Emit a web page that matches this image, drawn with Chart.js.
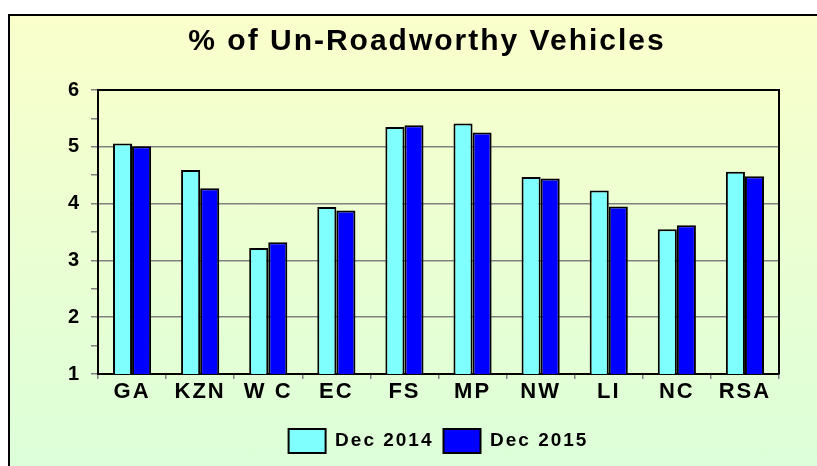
<!DOCTYPE html>
<html>
<head>
<meta charset="utf-8">
<script src="https://cdn.jsdelivr.net/npm/chart.js@4.4.1/dist/chart.umd.min.js"></script>
<style>
  html, body { margin: 0; padding: 0; width: 817px; height: 466px; overflow: hidden; background: #ffffff; }
  #frame { position: absolute; left: 8px; top: 14px; width: 1000px; height: 1000px;
           border: 2px solid #000; box-sizing: border-box;
           background: linear-gradient(to bottom, #FAFFCB 0px, #DCFFD9 452px); }
  #wrap { position: absolute; left: 0; top: 0; width: 817px; height: 466px; }
</style>
</head>
<body>
<div id="frame"></div>
<div id="wrap"><canvas id="c" width="817" height="466"></canvas></div>
<script>
const categories = ['GA', 'KZN', 'W C', 'EC', 'FS', 'MP', 'NW', 'LI', 'NC', 'RSA'];
const seriesNames = ['Dec 2014', 'Dec 2015'];
const dec2014 = [5.06, 4.59, 3.22, 3.94, 5.35, 5.41, 4.47, 4.23, 3.55, 4.56];
const dec2015 = [5.01, 4.27, 3.32, 3.88, 5.38, 5.25, 4.44, 3.95, 3.62, 4.48];
const yMin = 1, yMax = 6, yStep = 0.5;
const titleText = '% of Un-Roadworthy Vehicles';

const FONT = "'Liberation Sans', Arial, sans-serif";
const LS = '2px';

const canvas = document.getElementById('c');
const ctx = canvas.getContext('2d');

const spacing = {
  id: 'spacing',
  beforeUpdate(chart) { chart.ctx.letterSpacing = LS; },
  beforeLayout(chart) { chart.ctx.letterSpacing = LS; },
  beforeDraw(chart) { chart.ctx.letterSpacing = LS; },
  afterLayout(chart) {
    const y = chart.scales.y;
    y.left = 0;
  }
};

const plotFrame = {
  id: 'plotFrame',
  afterDatasetsDraw(chart) {
    const a = chart.chartArea;
    const c = chart.ctx;
    c.save();
    c.strokeStyle = '#000';
    c.lineWidth = 2;
    c.beginPath();
    c.moveTo(a.left, a.top);
    c.lineTo(a.right, a.top);
    c.lineTo(a.right, a.bottom);
    c.stroke();
    c.restore();
  }
};

new Chart(ctx, {
  type: 'bar',
  data: {
    labels: categories,
    datasets: [
      { label: seriesNames[0], data: dec2014, backgroundColor: '#80FFFF', borderColor: '#000', borderWidth: 2, borderSkipped: false },
      { label: seriesNames[1], data: dec2015, backgroundColor: '#0000FF', borderColor: '#000', borderWidth: 2, borderSkipped: false }
    ]
  },
  options: {
    responsive: false,
    animation: false,
    devicePixelRatio: 1,
    layout: { padding: { left: 75, right: 38, top: 0, bottom: 3 } },
    datasets: { bar: { categoryPercentage: 0.56, barPercentage: 1.0 } },
    plugins: {
      title: {
        display: true,
        text: titleText,
        color: '#000',
        font: { family: FONT, size: 30, weight: 'bold' },
        padding: { top: 24, bottom: 30 }
      },
      legend: {
        position: 'bottom',
        fullSize: false,
        labels: {
          color: '#000',
          font: { family: FONT, size: 19, weight: 'bold' },
          boxWidth: 37,
          boxHeight: 24,
          padding: 10
        }
      },
      tooltip: { enabled: false }
    },
    scales: {
      x: {
        afterFit(scale) { scale.height = 45; },
        grid: { offset: true, drawOnChartArea: false, color: '#808080', tickColor: '#808080', tickLength: 5, lineWidth: 1.5 },
        border: { display: true, color: '#000', width: 2 },
        ticks: { color: '#000', font: { family: FONT, size: 22, weight: 'bold' }, padding: 0, maxRotation: 0, autoSkip: false }
      },
      y: {
        min: yMin, max: yMax,
        afterFit(scale) { scale.width = 23; },
        grid: {
          color: (c) => (c.tick && Number.isInteger(c.tick.value)) ? '#808080' : 'rgba(0,0,0,0)',
          tickColor: '#808080',
          tickLength: 7,
          lineWidth: 1.5
        },
        border: { display: true, color: '#000', width: 2 },
        ticks: {
          stepSize: yStep,
          color: '#000',
          padding: 10,
          font: { family: FONT, size: 20, weight: 'bold' },
          callback: (v) => Number.isInteger(v) ? String(v) : ''
        }
      }
    }
  },
  plugins: [spacing, plotFrame]
});
</script>
</body>
</html>
